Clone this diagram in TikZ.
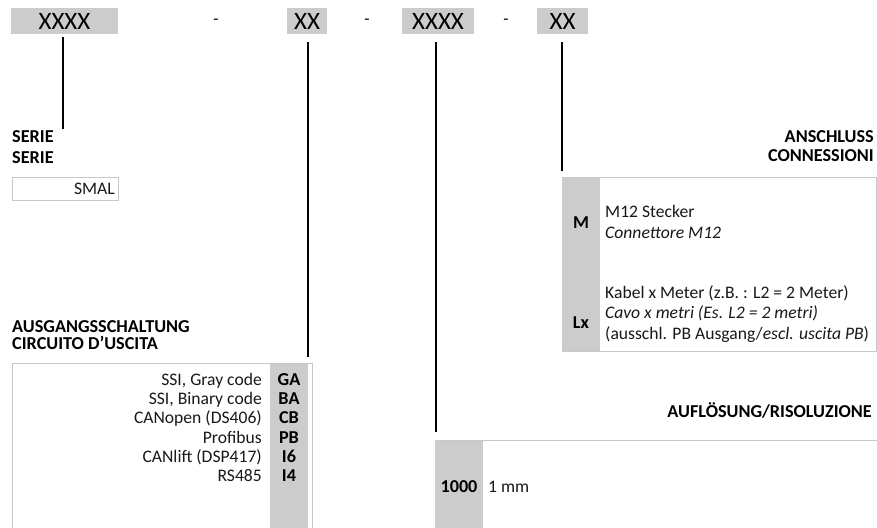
\documentclass[tikz,border=0pt]{standalone}
\usepackage{fontspec}
\setmainfont{Carlito}
\definecolor{cc}{RGB}{204,204,204}
\definecolor{bd}{RGB}{200,200,200}
\definecolor{ink}{RGB}{25,25,25}
\begin{document}
\begin{tikzpicture}[x=1pt,y=-1pt,
  topbox/.style={fill=cc, draw=none, inner sep=0pt, font=\fontsize{25}{28}\selectfont},
  dashlbl/.style={inner sep=0pt, font=\fontsize{17}{20}\selectfont},
  hd/.style={inner sep=0pt, font=\bfseries\fontsize{18.2}{20}\selectfont, text height=11.7pt, text depth=0pt},
  tx/.style={inner sep=0pt, text=ink, font=\fontsize{17.6}{20}\selectfont, text height=11.3pt, text depth=0pt},
  lead/.style={line width=1.8pt},
  frame/.style={draw=bd, line width=1.3pt, fill=white, inner sep=0pt, anchor=north west},
  col/.style={fill=cc, draw=none, inner sep=0pt, anchor=north west}]
\useasboundingbox (0,0) rectangle (877,527);

% top code boxes
\node[topbox, minimum width=107pt, minimum height=26pt] (b1) at (64.5,21) {XXXX};
\node[topbox, minimum width=40pt, minimum height=26pt] (b2) at (307,21) {XX};
\node[topbox, minimum width=72pt, minimum height=26pt] (b3) at (438,21) {XXXX};
\node[topbox, minimum width=51pt, minimum height=26pt] (b4) at (562.5,21) {XX};
\node[dashlbl] (d1) at (216,22) {-};
\node[dashlbl] (d2) at (367,22) {-};
\node[dashlbl] (d3) at (506,22) {-};

% leader end points
\coordinate (e1) at (63,129);
\coordinate (e2) at (308,357);
\coordinate (e3) at (436,432);
\coordinate (e4) at (562,171);
\draw[lead] (e1 |- 0,37) -- (e1);
\draw[lead] (e2 |- 0,42) -- (e2);
\draw[lead] (e3 |- 0,42) -- (e3);
\draw[lead] (e4 |- 0,42) -- (e4);

% SERIE
\node[hd, anchor=west] (s1) at (12,137) {SERIE};
\node[hd, anchor=west] (s2) at (12,158) {SERIE};
\node[frame, draw=bd, line width=1pt, minimum width=106pt, minimum height=23pt] (smal) at (12,177) {};
\node[tx, anchor=east] (smalt) at (115,188.5) {SMAL};

% ANSCHLUSS
\node[hd, anchor=east] (a1) at (874,137) {ANSCHLUSS};
\node[hd, anchor=east] (a2) at (874,156) {CONNESSIONI};
\node[frame, minimum width=314pt, minimum height=174pt] (conn) at (562,177) {};
\node[col, minimum width=38pt, minimum height=173.4pt] (conncol) at (562,177.6) {};
\node[hd] (cm) at (581,223) {M};
\node[tx, anchor=west] (cm1) at (605,212) {M12 Stecker};
\node[tx, anchor=west] (cm2) at (605,233) {\itshape Connettore M12};
\node[hd] (cl) at (581,323) {Lx};
\node[tx, anchor=west] (cl1) at (605,293) {Kabel x Meter (z.B. : L2 = 2 Meter)};
\node[tx, anchor=west] (cl2) at (605,313) {\itshape Cavo x metri (Es. L2 = 2 metri)};
\node[tx, anchor=west] (cl3) at (605,334) {(ausschl. PB Ausgang/\textit{escl. uscita PB})};

% AUSGANGSSCHALTUNG
\node[hd, anchor=west] (o1) at (12,327) {AUSGANGSSCHALTUNG};
\node[hd, anchor=west] (o2) at (12,344) {CIRCUITO D’USCITA};
\node[frame, minimum width=300pt, minimum height=180pt] (out) at (12,363) {};
\node[col, minimum width=38pt, minimum height=180pt] (outcol) at (270,363.6) {};
\foreach \y/\t/\c [count=\i] in {380/{SSI, Gray code}/GA, 399/{SSI, Binary code}/BA, 418/{CANopen (DS406)}/CB, 438/Profibus/PB, 457/{CANlift (DSP417)}/I6, 476/RS485/I4}{
  \node[tx, anchor=east] (ot\i) at (262,\y) {\t};
  \node[hd] (oc\i) at (289,\y) {\c};
}

% AUFLOESUNG
\node[hd, anchor=east] (r1) at (872,412) {AUFLÖSUNG/RISOLUZIONE};
\node[frame, minimum width=441.5pt, minimum height=100pt] (res) at (435,440) {};
\node[col, minimum width=48pt, minimum height=100pt] (rescol) at (435,440.6) {};
\node[hd] (rc) at (459,487) {1000};
\node[tx, anchor=west] (rt) at (488,487) {1 mm};
\end{tikzpicture}
\end{document}
